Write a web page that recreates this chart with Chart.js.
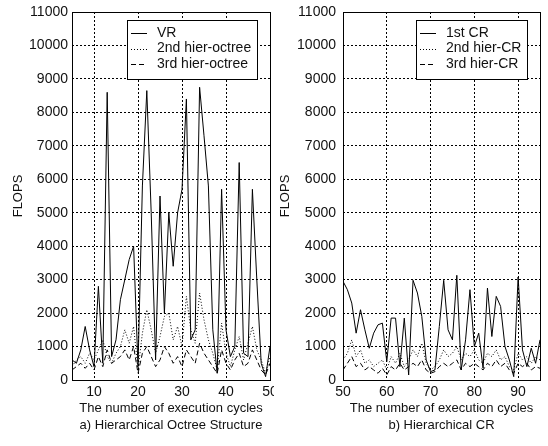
<!DOCTYPE html>
<html>
<head>
<meta charset="utf-8">
<script src="https://cdn.jsdelivr.net/npm/chart.js@4.4.1/dist/chart.umd.min.js"></script>
<style>
  html, body { margin: 0; padding: 0; background: #fff; }
  .panel { position: absolute; top: 0; width: 274px; height: 446px; }
</style>
</head>
<body>
<div class="panel" style="left:0"><canvas id="octreeChart"></canvas></div>
<div class="panel" style="left:274px"><canvas id="crChart"></canvas></div>
<script>
// a) Hierarchical Octree Structure
const cyclesA = [5, 6, 7, 8, 9, 10, 11, 12, 13, 14, 15, 16, 17, 18, 19, 20, 21, 22, 23, 24, 25, 26, 27,
                 28, 29, 30, 31, 32, 33, 34, 35, 36, 37, 38, 39, 40, 41, 42, 43, 44, 45, 46, 47, 48, 49, 50];
const vrFlops = [600, 500, 900, 1600, 900, 400, 2800, 500, 8600, 700, 1200, 2400, 3000, 3600, 4000, 400,
                 5800, 8650, 5000, 600, 5500, 2000, 5000, 3400, 5000, 5700, 8400, 1200, 1500, 8750, 7300,
                 5800, 1500, 200, 5700, 1500, 700, 1000, 6500, 800, 700, 5700, 3000, 500, 100, 1000];
const octree2Flops = [400, 600, 700, 500, 800, 600, 900, 1200, 700, 500, 800, 1000, 1500, 1100, 1600, 300,
                      1400, 2100, 1500, 800, 1300, 1900, 2000, 1200, 1600, 1000, 2500, 1500, 1100, 2600, 1800,
                      1200, 800, 300, 1700, 800, 400, 900, 1300, 600, 1100, 1600, 900, 600, 200, 700];
const octree3Flops = [300, 400, 500, 350, 500, 300, 700, 400, 900, 500, 600, 700, 900, 600, 1000, 200,
                      800, 1000, 700, 400, 600, 1000, 800, 500, 700, 400, 900, 700, 500, 1100, 800,
                      600, 400, 200, 900, 500, 300, 600, 800, 400, 500, 900, 600, 300, 150, 500];

// b) Hierarchical CR
const cyclesB = [50, 51, 52, 53, 54, 55, 56, 57, 58, 59, 60, 61, 62, 63, 64, 65, 66, 67, 68, 69, 70, 71, 72,
                 73, 74, 75, 76, 77, 78, 79, 80, 81, 82, 83, 84, 85, 86, 87, 88, 89, 90, 91, 92, 93, 94, 95];
const cr1Flops = [2950, 2700, 2300, 1400, 2100, 1500, 950, 1400, 1650, 1700, 550, 1850, 1850, 400, 1850, 150,
                  2980, 2600, 1900, 600, 250, 300, 1600, 2980, 1500, 1200, 3130, 300, 1200, 2700, 1000,
                  1400, 350, 2750, 1300, 2500, 2200, 1000, 600, 100, 3080, 900, 400, 950, 500, 1200];
const cr2Flops = [600, 800, 1200, 700, 900, 500, 600, 400, 500, 600, 300, 700, 500, 800, 400, 600,
                  900, 700, 1100, 500, 300, 400, 600, 900, 700, 800, 1000, 600, 800, 700, 900,
                  600, 500, 800, 700, 900, 600, 700, 400, 300, 800, 600, 700, 500, 700, 600];
const cr3Flops = [300, 500, 700, 400, 500, 300, 400, 300, 200, 350, 150, 400, 300, 500, 300, 400,
                  500, 400, 600, 300, 200, 250, 400, 500, 400, 500, 600, 300, 500, 400, 500,
                  400, 300, 500, 400, 600, 400, 500, 300, 200, 500, 400, 500, 300, 400, 350];

const yTicks = [0, 1000, 2000, 3000, 4000, 5000, 6000, 7000, 8000, 9000, 10000, 11000];
const xTicksA = [10, 20, 30, 40, 50];
const xTicksB = [50, 60, 70, 80, 90];

const textColor = '#111';
const fontFamily = '"Liberation Sans", Arial, sans-serif';

function toPoints(xs, ys) {
    return xs.map(function (x, i) { return { x: x, y: ys[i] }; });
}

function series(label, xs, ys, dash) {
    return {
        label: label,
        data: toPoints(xs, ys),
        borderColor: '#000',
        borderWidth: 1,
        borderDash: dash,
        pointRadius: 0,
        tension: 0,
        fill: false
    };
}

// plain numbers on the axes, no thousands separator
function plainLabel(value) {
    return String(value);
}

// black box round the plot area
const framePlugin = {
    id: 'frame',
    afterDatasetsDraw: function (chart) {
        const a = chart.chartArea;
        const ctx = chart.ctx;
        ctx.save();
        ctx.strokeStyle = '#000';
        ctx.lineWidth = 1;
        ctx.setLineDash([]);
        ctx.strokeRect(Math.round(a.left) + 0.5, Math.round(a.top) + 0.5,
            Math.round(a.right - a.left), Math.round(a.bottom - a.top));
        ctx.restore();
    }
};

// boxed legend in the upper right corner, like the matlab one
const boxLegendPlugin = {
    id: 'boxLegend',
    afterDraw: function (chart) {
        const a = chart.chartArea;
        const ctx = chart.ctx;
        const sets = chart.data.datasets;
        ctx.save();
        ctx.font = '14px ' + fontFamily;
        let textW = 0;
        sets.forEach(function (ds) { textW = Math.max(textW, ctx.measureText(ds.label).width); });
        const w = Math.round(4 + 16 + 10 + textW + 6);
        const h = 59;
        const right = Math.round(a.right) - 13;
        const left = right - w;
        const top = Math.round(a.top) + 8;
        ctx.fillStyle = '#fff';
        ctx.fillRect(left, top, w, h);
        ctx.strokeStyle = '#000';
        ctx.lineWidth = 1;
        ctx.strokeRect(left + 0.5, top + 0.5, w, h);
        sets.forEach(function (ds, i) {
            const y = top + 13 + i * 15.5;
            ctx.beginPath();
            ctx.setLineDash(ds.borderDash || []);
            ctx.moveTo(left + 4, Math.round(y) + 0.5);
            ctx.lineTo(left + 20, Math.round(y) + 0.5);
            ctx.stroke();
            ctx.setLineDash([]);
            ctx.fillStyle = textColor;
            ctx.textBaseline = 'middle';
            ctx.fillText(ds.label, left + 30, y);
        });
        ctx.restore();
    }
};

function makeChart(id, sets, xMin, xMax, xTicks, caption, yWidth, yTickPad, yTitlePad, rightPad) {
    const ctx = document.getElementById(id).getContext('2d');
    return new Chart(ctx, {
        type: 'line',
        data: { datasets: sets },
        plugins: [framePlugin, boxLegendPlugin],
        options: {
            responsive: true,
            maintainAspectRatio: false,
            animation: false,
            layout: { padding: { top: 12, right: rightPad, bottom: 0, left: 0 } },
            plugins: {
                legend: { display: false },
                tooltip: { enabled: false }
            },
            scales: {
                x: {
                    type: 'linear',
                    min: xMin,
                    max: xMax,
                    afterBuildTicks: function (scale) {
                        scale.ticks = xTicks.map(function (v) { return { value: v }; });
                    },
                    afterFit: function (scale) {
                        scale.height = 66;
                        scale.paddingLeft = 0;
                        scale.paddingRight = 0;
                    },
                    ticks: {
                        padding: 4,
                        color: textColor,
                        font: { family: fontFamily, size: 14 },
                        maxRotation: 0,
                        callback: plainLabel
                    },
                    grid: { color: '#000', lineWidth: 1, drawTicks: false },
                    border: { display: false, dash: [2, 2] },
                    title: {
                        display: true,
                        text: ['The number of execution cycles', caption],
                        color: textColor,
                        font: { family: fontFamily, size: 13, lineHeight: 1.3 },
                        padding: { top: 0, bottom: 12 }
                    }
                },
                y: {
                    min: 0,
                    max: 11000,
                    afterBuildTicks: function (scale) {
                        scale.ticks = yTicks.map(function (v) { return { value: v }; });
                    },
                    afterFit: function (scale) {
                        scale.width = yWidth;
                        scale.paddingTop = 0;
                        scale.paddingBottom = 0;
                    },
                    ticks: {
                        padding: yTickPad,
                        color: textColor,
                        font: { family: fontFamily, size: 14 },
                        callback: plainLabel
                    },
                    grid: { color: '#000', lineWidth: 1, drawTicks: false },
                    border: { display: false, dash: [2, 2] },
                    title: {
                        display: true,
                        text: 'FLOPS',
                        color: textColor,
                        font: { family: fontFamily, size: 13 },
                        padding: { top: yTitlePad, bottom: 0 }
                    }
                }
            }
        }
    });
}

makeChart('octreeChart', [
    series('VR', cyclesA, vrFlops, []),
    series('2nd hier-octree', cyclesA, octree2Flops, [1, 2]),
    series('3rd hier-octree', cyclesA, octree3Flops, [5, 3])
], 5, 50, xTicksA, 'a) Hierarchical Octree Structure', 72, 4, 11, 4);

makeChart('crChart', [
    series('1st CR', cyclesB, cr1Flops, []),
    series('2nd hier-CR', cyclesB, cr2Flops, [1, 2]),
    series('3rd hier-CR', cyclesB, cr3Flops, [5, 3])
], 50, 95, xTicksB, 'b) Hierarchical CR', 69, 7, 4, 8);
</script>
</body>
</html>
